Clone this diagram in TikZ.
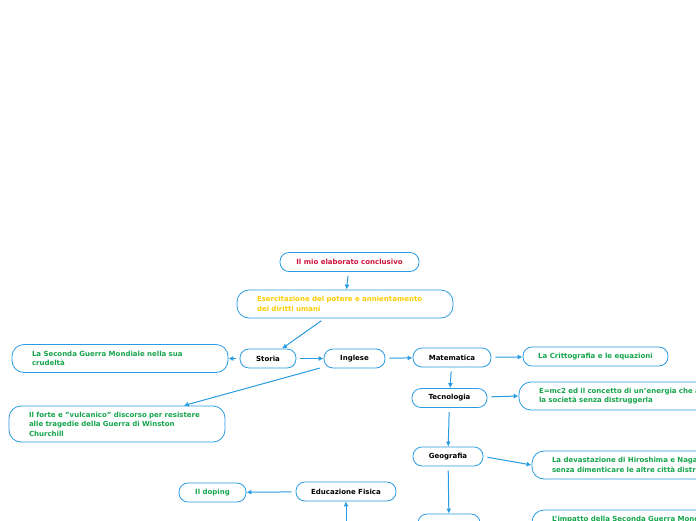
\documentclass[tikz,border=0pt]{standalone}
\usepackage{fontspec}
\setmainfont{DejaVu Sans}
\usetikzlibrary{arrows.meta}
\usetikzlibrary{positioning}

\definecolor{mmblue}{RGB}{40,155,225}
\definecolor{mmgreen}{RGB}{20,165,75}
\definecolor{mmred}{RGB}{205,20,60}
\definecolor{mmyellow}{RGB}{250,205,0}

\tikzset{
  topic/.style={draw=mmblue, line width=0.8pt, rounded corners=9pt, fill=white,
    font=\bfseries\fontsize{7}{9.5}\selectfont, inner sep=0pt,
    minimum height=19pt, align=center},
  note/.style={topic, rounded corners=12pt, text=mmgreen, text width=176pt,
    inner xsep=20pt, align=left, minimum height=28pt},
  link/.style={draw=mmblue, line width=1pt, shorten <=4pt,
    -{Latex[length=5pt,width=5pt]}}
}

\begin{document}
\begin{tikzpicture}[x=1pt,y=-1pt]
\useasboundingbox (0,0) rectangle (696,520);
\clip (0,0) rectangle (696,520);

%top - title and theme
\node[topic, minimum width=139pt, text=mmred] (title) at (349.5,262) {Il mio elaborato conclusivo};
\node[note, text=mmyellow] (theme) at (345,304) {Esercitazione del potere e annientamento\\dei diritti umani};

%middle row - subjects
\node[topic, minimum width=56pt] (storia) at (268,358.5) {Storia};
\node[topic, minimum width=61pt] (ingl)   at (354.5,358.5) {Inglese};
\node[topic, minimum width=78pt] (matem)  at (452,357.5) {Matematica};
\node[topic, minimum width=75pt] (tecno)  at (449.5,398) {Tecnologia};
\node[topic, minimum width=70pt] (geo)    at (448,456.5) {Geografia};
\node[topic, minimum width=62pt] (nextsub) at (449,523.5) {};
\node[topic, minimum width=100pt] (edfis) at (346,491.5) {Educazione Fisica};
\coordinate (belowed) at (346,535);

%left - notes
\node[note] (crudel) at (120,358.5) {La Seconda Guerra Mondiale nella sua\\crudeltà};
\node[note, minimum height=36pt] (church) at (117,424) {Il forte e "vulcanico" discorso per resistere\\alle tragedie della Guerra di Winston\\Churchill};
\node[topic, minimum width=67pt, text=mmgreen] (doping) at (212.5,492.5) {Il doping};

%right - notes
\node[topic, minimum width=145pt, text=mmgreen] (critto) at (595.5,356.5) {La Crittografia e le equazioni};
\node[note, text width=210pt] (emc) at (644,396) {E=mc2 ed il concetto di un'energia che aiuta\\la società senza distruggerla};
\node[note, text width=200pt] (hiro) at (652,465) {La devastazione di Hiroshima e Nagasaki\\senza dimenticare le altre città distrutte};
\node[note, text width=200pt] (impatto) at (652,524) {L'impatto della Seconda Guerra Mondiale\\~};

%lines
\draw[link] (title) -- (theme);		%title--theme
\draw[link] (theme) -- (storia);	%theme--storia
\draw[link] (storia) -- (crudel);	%storia--crudel
\draw[link] (storia) -- (ingl);		%storia--ingl
\draw[link] (ingl) -- (church);		%ingl--church
\draw[link] (ingl) -- (matem);		%ingl--matem
\draw[link] (matem) -- (critto);	%matem--critto
\draw[link] (matem) -- (tecno);		%matem--tecno
\draw[link] (tecno) -- (emc.west);	%tecno--emc
\draw[link] (tecno) -- (geo);		%tecno--geo
\draw[link] (geo.east) -- (hiro.west);	%geo--hiro
\draw[link] (geo) -- (nextsub);		%geo--next
\draw[link] (edfis) -- (doping);	%edfis--doping
\draw[link] (belowed) -- (edfis);	%below--edfis
\end{tikzpicture}
\end{document}
